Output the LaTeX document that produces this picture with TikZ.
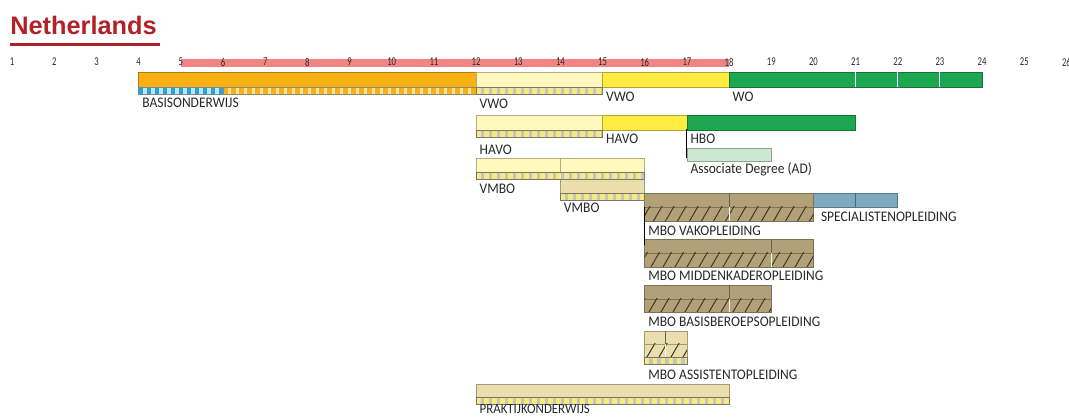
\documentclass[tikz,border=0pt]{standalone}
\usepackage{fontspec}
\setmainfont{Carlito}
\newfontfamily\labfam[FakeStretch=0.92]{Carlito}
\newfontfamily\agefam[FakeStretch=0.72]{Carlito}
\newfontfamily\titlefam{Liberation Sans}
\usetikzlibrary{patterns.meta}

\definecolor{titlered}{RGB}{176,34,40}
\definecolor{txt}{RGB}{40,40,40}
\definecolor{agepink}{RGB}{242,132,132}
\definecolor{basisor}{RGB}{248,176,20}
\definecolor{orangelt}{RGB}{250,226,170}
\definecolor{checkblue}{RGB}{35,165,222}
\definecolor{checkbluelt}{RGB}{200,228,240}
\definecolor{paleyel}{RGB}{255,247,188}
\definecolor{brightyel}{RGB}{255,236,66}
\definecolor{wogreen}{RGB}{30,166,80}
\definecolor{adgreen}{RGB}{205,232,210}
\definecolor{vmbotan}{RGB}{234,222,172}
\definecolor{mbobrown}{RGB}{178,161,120}
\definecolor{specblue}{RGB}{126,170,192}
\definecolor{checkyel}{RGB}{248,234,120}
\definecolor{checkgrey}{RGB}{196,196,192}
\definecolor{hatchc}{RGB}{66,54,34}

\begin{document}
\begin{tikzpicture}[x=31.63pt, y=-0.75pt,
    lab/.style={font=\labfam\fontsize{11pt}{13pt}\selectfont, text=txt, anchor=base west, inner sep=0pt, xshift=2.5pt},
    agelab/.style={font=\agefam\fontsize{9pt}{10pt}\selectfont, text=txt, inner sep=0pt},
    bar/.style={fill=#1, draw=#1!70!black, line width=0.5pt},
    hatch/.style={pattern={Lines[angle=60, distance=7.8pt, line width=0.75pt]}, pattern color=hatchc},
    split/.style={draw=#1, line width=0.8pt}]
  \useasboundingbox (0.7114,0) rectangle (26.061,417);

  % title
  \node[font=\titlefam\bfseries\fontsize{19pt}{22pt}\selectfont, text=titlered, anchor=base west, inner sep=0pt] (title) at (0.949,35) {Netherlands};
  \draw[titlered, line width=2.3pt] ([yshift=-7pt]title.base west) -- ([yshift=-7pt, xshift=2pt]title.base east);

  % ages
  \fill[agepink] (5,59) rectangle (18,67);
  \foreach \a in {1,...,26}
    \node[agelab] (age\a) at (\a,62) {\a};

  % plain bars
  \draw[bar=basisor] (4,72) rectangle (12,87);
  \draw[bar=paleyel] (12,72) rectangle (15,87);
  \draw[bar=brightyel] (15,72) rectangle (18,87);
  \draw[bar=wogreen] (18,72) rectangle (24,87);
  \foreach \a in {21,22,23}
    \draw[split=white] (\a,72) -- (\a,87);

  \draw[bar=paleyel] (12,115) rectangle (15,130);
  \draw[bar=brightyel] (15,115) rectangle (17,130);
  \draw[bar=wogreen] (17,115) rectangle (21,130);
  \draw[bar=adgreen] (17,148) rectangle (19,161);

  \draw[bar=paleyel] (12,158) rectangle (16,172);
  \draw[split=paleyel!70!black] (14,158) -- (14,172);
  \draw[bar=vmbotan] (14,179) rectangle (16,193);
  \draw[bar=specblue] (20,193) rectangle (22,207);
  \draw[split=specblue!60!black] (21,193) -- (21,207);
  \draw[bar=vmbotan] (12,384) rectangle (18,397);

  % mbo bars: top part and hatched part
  \foreach \xa/\xb/\ya/\yb/\yc/\c in {16/20/193/207/221/mbobrown, 16/20/239/253/267/mbobrown,
      16/19/285/299/312/mbobrown, 16/17/331/344/357/vmbotan} {
    \draw[bar=\c] (\xa,\ya) rectangle (\xb,\yb);
    \draw[bar=\c] (\xa,\yb) rectangle (\xb,\yc);
    \fill[hatch] (\xa,\yb) rectangle (\xb,\yc);
  }
  \foreach \xs/\ya/\yb/\yc in {18/193/207/221, 19/239/253/267, 18/285/299/312, 16.5/331/344/357} {
    \draw[split=mbobrown!60!black] (\xs,\ya) -- (\xs,\yb);
    \draw[split=white] (\xs,\yb) -- (\xs,\yc);
  }

  % checked strips
  \foreach \xa/\xb/\ya/\ca/\cb in {4/6/87/checkblue/checkbluelt, 6/12/87/basisor/orangelt,
      12/15/87/checkyel/checkgrey, 12/15/130/checkyel/checkgrey, 12/16/172/checkyel/checkgrey,
      14/16/193/checkyel/checkgrey, 16/17/357/checkyel/checkgrey, 12/18/397/checkyel/checkgrey} {
    \fill[\cb] (\xa,\ya) rectangle (\xb,\ya+7);
    \draw[\ca, line width=5.25pt, dash pattern=on 3.5pt off 2.5pt] (\xa,\ya+3.5) -- (\xb,\ya+3.5);
    \draw[\cb!60!black, line width=0.5pt] (\xa,\ya) rectangle (\xb,\ya+7);
  }

  % marker lines
  \coordinate (hbo-foot) at (17,129);
  \coordinate (ad-foot) at (17,158);
  \coordinate (vak-foot) at (16,207);
  \coordinate (vak-end) at (16,245);
  \draw[black, line width=0.8pt] (hbo-foot) -- (ad-foot);
  \draw[black, line width=0.8pt] (vak-foot) -- (vak-end);

  % labels
  \node[lab] (basis) at (4,108) {BASISONDERWIJS};
  \node[lab] (vwo-a) at (12,109) {VWO};
  \node[lab] (vwo-b) at (15,102) {VWO};
  \node[lab] (wo) at (18,102) {WO};
  \node[lab] (havo-a) at (12,155) {HAVO};
  \node[lab] (havo-b) at (15,144) {HAVO};
  \node[lab] (hbo) at (17,144) {HBO};
  \node[lab] (ad) at (17,174) {Associate Degree (AD)};
  \node[lab] (vmbo-a) at (12,194) {VMBO};
  \node[lab] (vmbo-b) at (14,213) {VMBO};
  \node[lab, xshift=3pt] (spec) at (20,222) {SPECIALISTENOPLEIDING};
  \node[lab] (vak) at (16,236) {MBO VAKOPLEIDING};
  \node[lab] (kader) at (16,281) {MBO MIDDENKADEROPLEIDING};
  \node[lab] (beroeps) at (16,327) {MBO BASISBEROEPSOPLEIDING};
  \node[lab] (assist) at (16,380) {MBO ASSISTENTOPLEIDING};
  \node[lab, font=\labfam\fontsize{10.5pt}{12pt}\selectfont] (praktijk) at (12,414) {PRAKTIJKONDERWIJS};
\end{tikzpicture}
\end{document}
